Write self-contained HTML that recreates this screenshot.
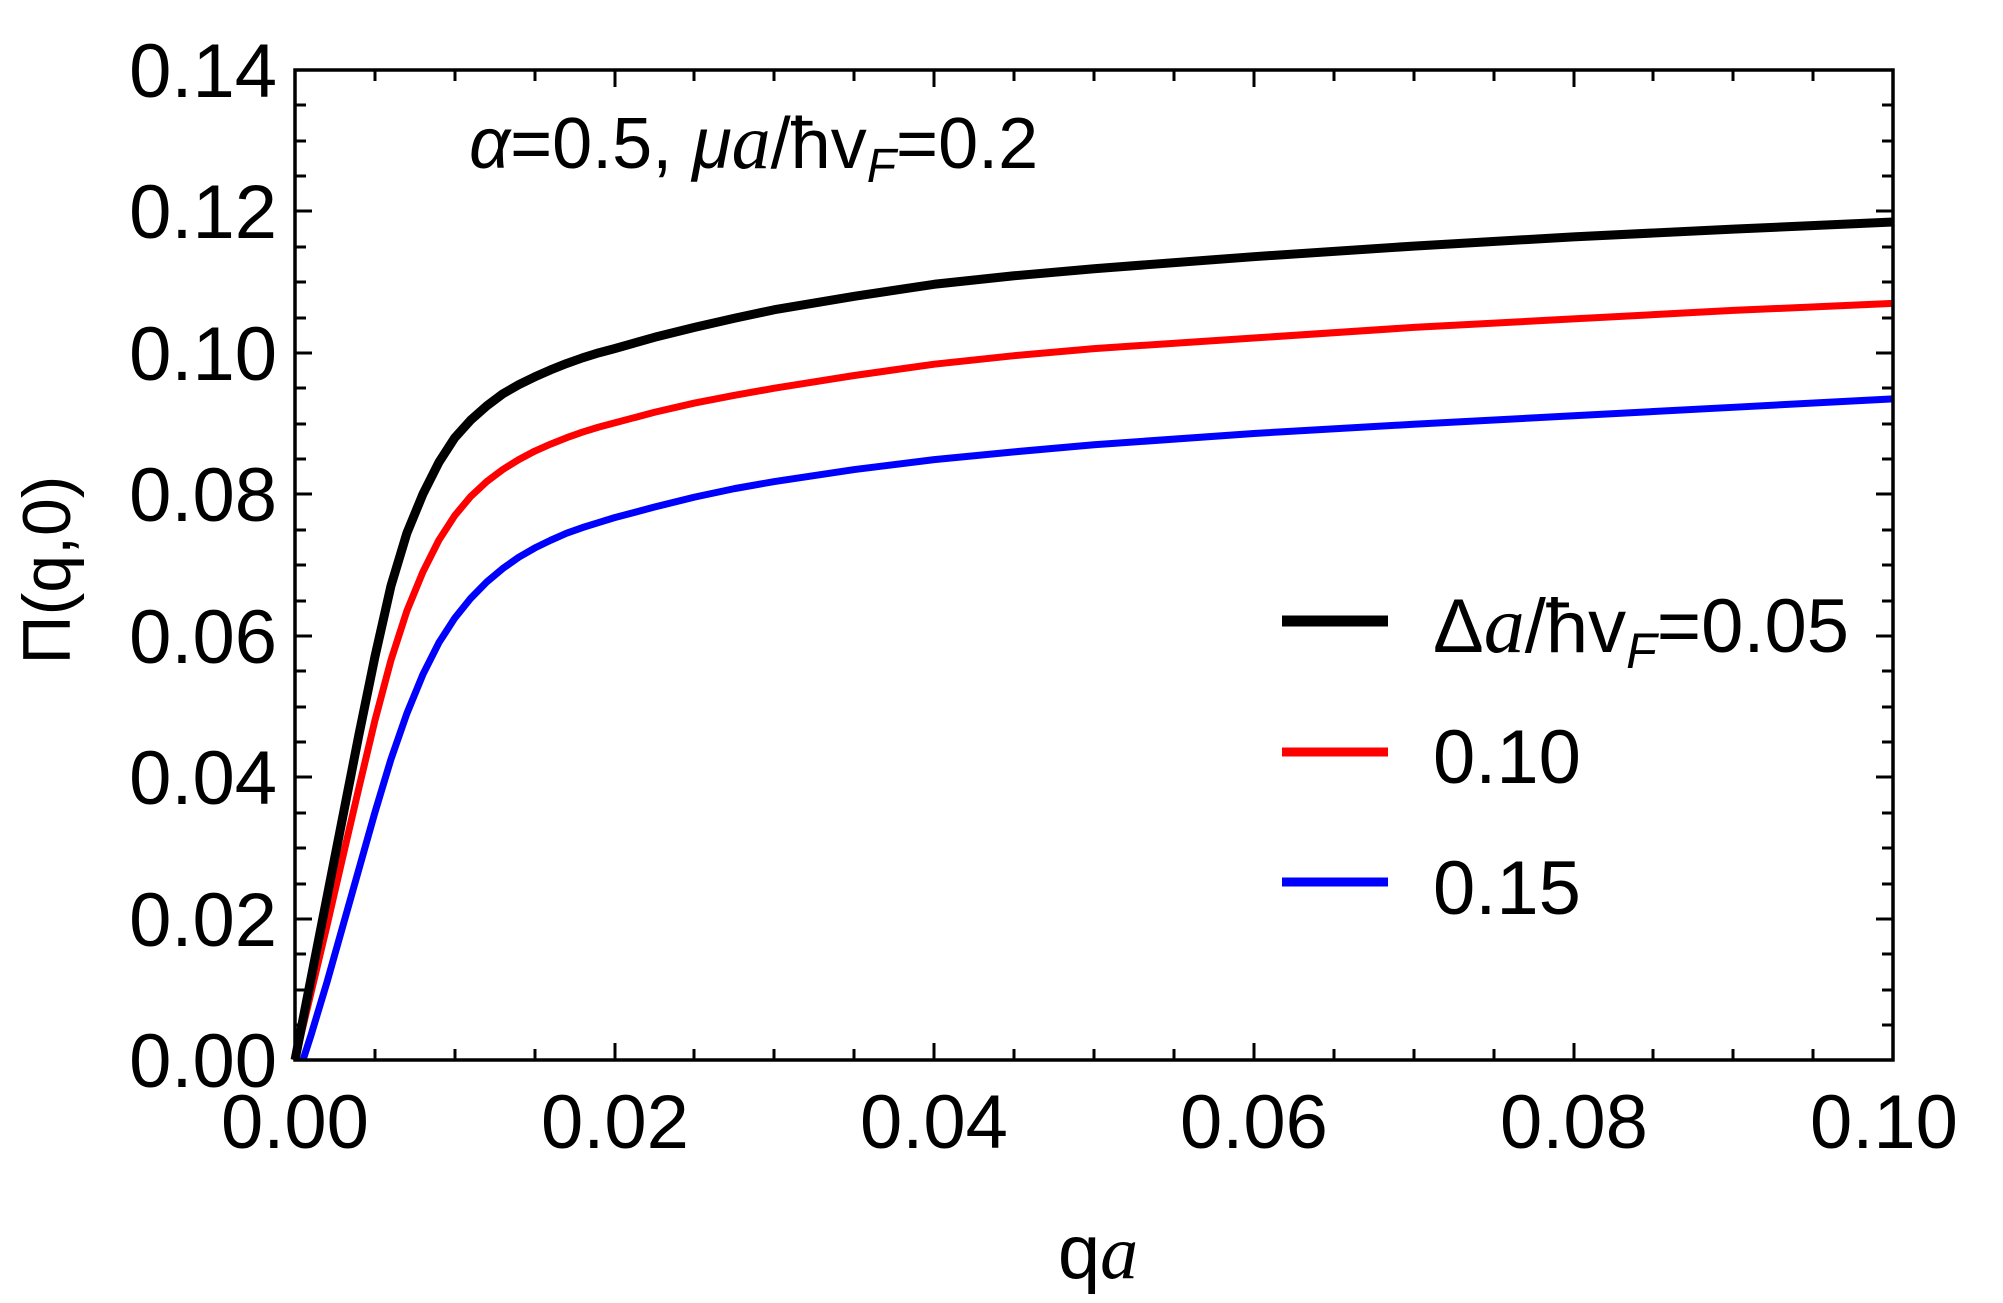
<!DOCTYPE html>
<html><head><meta charset="utf-8"><style>
html,body{margin:0;padding:0;background:#fff;}
svg{display:block;font-family:"Liberation Sans",Arial,sans-serif;}
</style></head><body>
<svg width="2003" height="1303" viewBox="0 0 2003 1303" xmlns="http://www.w3.org/2000/svg">
<rect width="2003" height="1303" fill="#fff"/>
<g stroke="#000" stroke-width="3">
<path d="
M295 1060v-17M375 1060v-11M455 1060v-11M535 1060v-11M615 1060v-17M694 1060v-11M774 1060v-11M854 1060v-11M934 1060v-17M1014 1060v-11M1094 1060v-11M1174 1060v-11M1254 1060v-17M1334 1060v-11M1414 1060v-11M1494 1060v-11M1574 1060v-17M1653 1060v-11M1733 1060v-11M1813 1060v-11M1893 1060v-17
M295 70v17M375 70v11M455 70v11M535 70v11M615 70v17M694 70v11M774 70v11M854 70v11M934 70v17M1014 70v11M1094 70v11M1174 70v11M1254 70v17M1334 70v11M1414 70v11M1494 70v11M1574 70v17M1653 70v11M1733 70v11M1813 70v11M1893 70v17
"/>
<path d="
M295 1060h17M295 1025h11M295 990h11M295 954h11M295 919h17M295 884h11M295 848h11M295 813h11M295 777h17M295 742h11M295 707h11M295 671h11M295 636h17M295 601h11M295 565h11M295 530h11M295 494h17M295 459h11M295 424h11M295 388h11M295 353h17M295 318h11M295 282h11M295 247h11M295 211h17M295 176h11M295 141h11M295 105h11M295 70h17
M1893 1060h-17M1893 1025h-11M1893 990h-11M1893 954h-11M1893 919h-17M1893 884h-11M1893 848h-11M1893 813h-11M1893 777h-17M1893 742h-11M1893 707h-11M1893 671h-11M1893 636h-17M1893 601h-11M1893 565h-11M1893 530h-11M1893 494h-17M1893 459h-11M1893 424h-11M1893 388h-11M1893 353h-17M1893 318h-11M1893 282h-11M1893 247h-11M1893 211h-17M1893 176h-11M1893 141h-11M1893 105h-11M1893 70h-17
"/>
</g>
<g transform="translate(295,1060) scale(15980,-7071.4)" fill="none" stroke-linejoin="round">
<polyline vector-effect="non-scaling-stroke" stroke="#0000ff" stroke-width="7" points="0.0005,0 0.001,0.0035 0.002,0.011 0.003,0.019 0.004,0.027 0.005,0.035 0.006,0.0425 0.007,0.049 0.008,0.0545 0.009,0.059 0.010,0.0625 0.011,0.0653 0.012,0.0676 0.013,0.0695 0.014,0.0711 0.015,0.0724 0.016,0.0735 0.017,0.0745 0.018,0.0753 0.019,0.076 0.020,0.0767 0.0225,0.0782 0.025,0.0796 0.0275,0.0808 0.03,0.0818 0.035,0.0835 0.04,0.0849 0.045,0.086 0.05,0.087 0.06,0.0886 0.07,0.0899 0.08,0.0911 0.09,0.0923 0.1,0.0935"/>
<polyline vector-effect="non-scaling-stroke" stroke="#ff0000" stroke-width="7" points="0,0 0.001,0.0095 0.002,0.019 0.003,0.0288 0.004,0.0385 0.005,0.048 0.006,0.0565 0.007,0.0635 0.008,0.069 0.009,0.0735 0.010,0.077 0.011,0.0797 0.012,0.0818 0.013,0.0835 0.014,0.0849 0.015,0.0861 0.016,0.0871 0.017,0.088 0.018,0.0888 0.019,0.0895 0.020,0.0901 0.0225,0.0916 0.025,0.0929 0.0275,0.094 0.03,0.095 0.035,0.0968 0.04,0.0984 0.045,0.0996 0.05,0.1006 0.06,0.1021 0.07,0.1036 0.08,0.1048 0.09,0.106 0.1,0.107"/>
<polyline vector-effect="non-scaling-stroke" stroke="#000" stroke-width="9" points="0,0 0.001,0.0115 0.002,0.023 0.003,0.0345 0.004,0.046 0.005,0.057 0.006,0.067 0.007,0.0745 0.008,0.08 0.009,0.0845 0.010,0.088 0.011,0.0905 0.012,0.0925 0.013,0.0942 0.014,0.0955 0.015,0.0966 0.016,0.0976 0.017,0.0985 0.018,0.0993 0.019,0.1 0.020,0.1006 0.0225,0.1022 0.025,0.1036 0.0275,0.1049 0.03,0.1061 0.035,0.108 0.04,0.1097 0.045,0.1109 0.05,0.1119 0.06,0.1136 0.07,0.1151 0.08,0.1164 0.09,0.1175 0.1,0.1185"/>
</g>
<rect x="295" y="70" width="1598" height="990" fill="none" stroke="#000" stroke-width="3.5"/>
<g font-size="76" fill="#000" text-anchor="end">
<text x="277" y="97">0.14</text>
<text x="277" y="238">0.12</text>
<text x="277" y="380">0.10</text>
<text x="277" y="521">0.08</text>
<text x="277" y="663">0.06</text>
<text x="277" y="804">0.04</text>
<text x="277" y="946">0.02</text>
<text x="277" y="1087">0.00</text>
</g>
<g font-size="76" fill="#000" text-anchor="middle">
<text x="295" y="1148">0.00</text>
<text x="615" y="1148">0.02</text>
<text x="934" y="1148">0.04</text>
<text x="1254" y="1148">0.06</text>
<text x="1574" y="1148">0.08</text>
<text x="1884" y="1148">0.10</text>
<text x="1098" y="1278">q<tspan font-family="Liberation Serif" font-style="italic">a</tspan></text>
</g>
<text transform="translate(70,570) rotate(-90)" font-size="68" text-anchor="middle">Π(q,0)</text>
<text x="469" y="168" font-size="72"><tspan font-style="italic">α</tspan>=0.5, <tspan font-style="italic">μ</tspan><tspan font-family="Liberation Serif" font-style="italic" font-size="78">a</tspan>/ħv<tspan font-size="48" dy="14" font-style="italic">F</tspan><tspan dy="-14">=0.2</tspan></text>
<line x1="1282" y1="621" x2="1388" y2="621" stroke="#000" stroke-width="11"/>
<line x1="1282" y1="752" x2="1388" y2="752" stroke="#f00" stroke-width="9"/>
<line x1="1282" y1="882" x2="1388" y2="882" stroke="#00f" stroke-width="9"/>
<g font-size="76">
<text x="1433" y="652">Δ<tspan font-family="Liberation Serif" font-style="italic" font-size="82">a</tspan>/ħv<tspan font-size="50" dy="16" font-style="italic">F</tspan><tspan dy="-16">=0.05</tspan></text>
<text x="1433" y="783">0.10</text>
<text x="1433" y="914">0.15</text>
</g>
</svg>
</body></html>
